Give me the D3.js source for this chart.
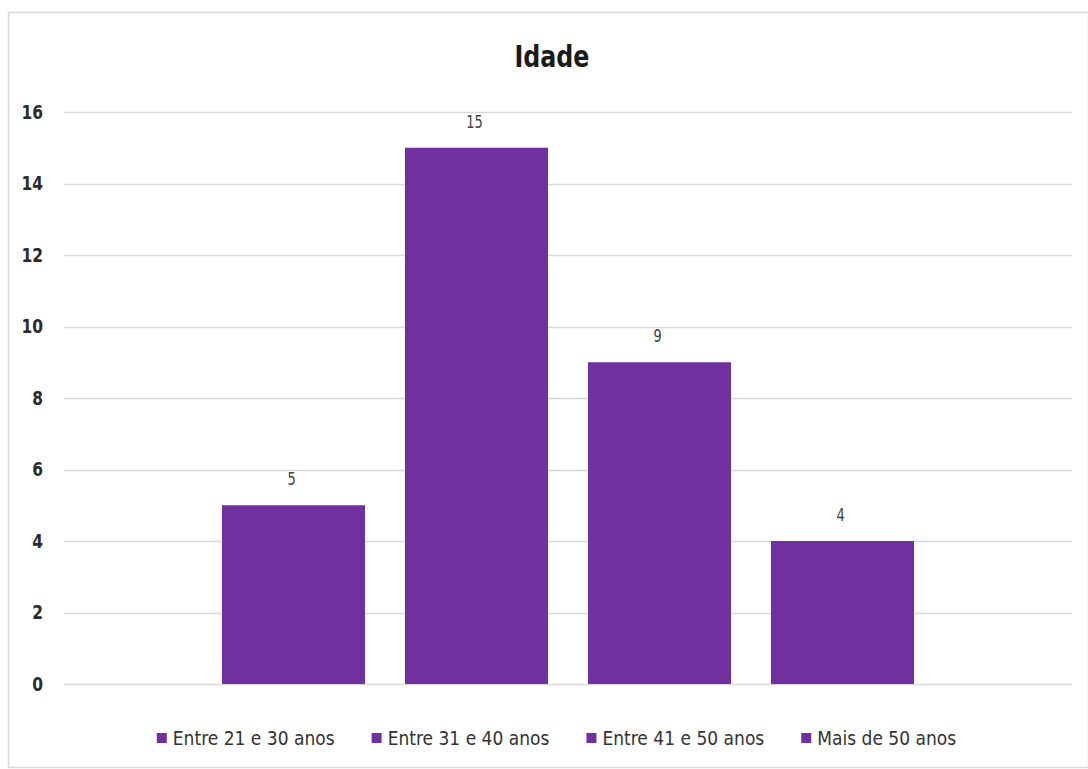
<!DOCTYPE html>
<html>
<head>
<meta charset="utf-8">
<script src="https://cdn.jsdelivr.net/npm/d3@7"></script>
<style>
html,body{margin:0;padding:0;background:#fff;}
svg{display:block;}
text{font-family:"Liberation Sans Narrow","DejaVu Sans Condensed","Roboto Condensed",sans-serif;}
</style>
</head>
<body>
<svg id="chart" width="1088" height="769"></svg>
<script>
const title = "Idade";
const series = ["Entre 21 e 30 anos", "Entre 31 e 40 anos", "Entre 41 e 50 anos", "Mais de 50 anos"];
const values = [5, 15, 9, 4];
const yTicks = [0, 2, 4, 6, 8, 10, 12, 14, 16];
const barColor = "#7030A0";

const svg = d3.select("#chart");

// chart border
svg.append("rect").attr("x", 8.5).attr("y", 12.5).attr("width", 1080).attr("height", 755)
  .attr("fill", "#fff").attr("stroke", "#d9d9d9").attr("stroke-width", 1.5);

const plot = {left: 64, right: 1072, top: 112, bottom: 684};

const y = d3.scaleLinear().domain([0, 16]).range([plot.bottom, plot.top]);
const x = d3.scaleBand().domain(series).range([222, 914]).paddingInner(0.2186).paddingOuter(0);

// gridlines
svg.append("g").selectAll("line").data(yTicks).join("line")
  .attr("x1", plot.left).attr("x2", plot.right)
  .attr("y1", d => Math.round(y(d)) + 0.5).attr("y2", d => Math.round(y(d)) + 0.5)
  .attr("stroke", "#d9d9d9").attr("stroke-width", 1.5);

// y axis labels
const yAxis = d3.axisLeft(y).tickValues(yTicks).tickSize(0).tickPadding(0);
const gy = svg.append("g").attr("transform", "translate(43,0) scale(0.86,1)").call(yAxis);
gy.select(".domain").remove();
gy.selectAll("text").attr("font-size", 20).attr("font-weight", "bold").attr("fill", "#2b2b2b")
  .style("font-family", '"Liberation Sans Narrow","DejaVu Sans Condensed",sans-serif');

// bars
svg.append("g").selectAll("rect").data(series).join("rect")
  .attr("x", d => x(d)).attr("width", x.bandwidth())
  .attr("y", (d, i) => y(values[i])).attr("height", (d, i) => y(0) - y(values[i]))
  .attr("fill", barColor);

// value labels
svg.append("g").selectAll("text").data(series).join("text")
  .attr("transform", (d, i) => `translate(${x(d) + x.bandwidth() / 2 - 2},${y(values[i]) - 20}) scale(0.8,1)`)
  .attr("text-anchor", "middle").attr("font-size", 18).attr("fill", "#404040")
  .text((d, i) => values[i]);

// title
svg.append("text").attr("transform", "translate(552,67) scale(0.88,1)").attr("text-anchor", "middle")
  .attr("font-size", 30).attr("font-weight", "bold").attr("fill", "#1a1a1a").text(title);

// legend
const sx = 0.95;
const lg = svg.append("g");
const items = lg.selectAll("g").data(series).join("g");
items.append("rect").attr("width", 10).attr("height", 10).attr("y", -12).attr("fill", barColor);
items.append("text").attr("transform", "translate(16,0) scale(" + sx + ",1)")
  .attr("font-size", 20).attr("fill", "#333").text(d => d);
let cx = 0;
const gap = 37;
items.each(function () {
  const w = this.querySelector("text").getComputedTextLength() * sx + 16;
  d3.select(this).attr("transform", `translate(${cx},0)`);
  cx += w + gap;
});
const total = cx - gap;
lg.attr("transform", `translate(${556.5 - total / 2},745)`);
</script>
</body>
</html>
